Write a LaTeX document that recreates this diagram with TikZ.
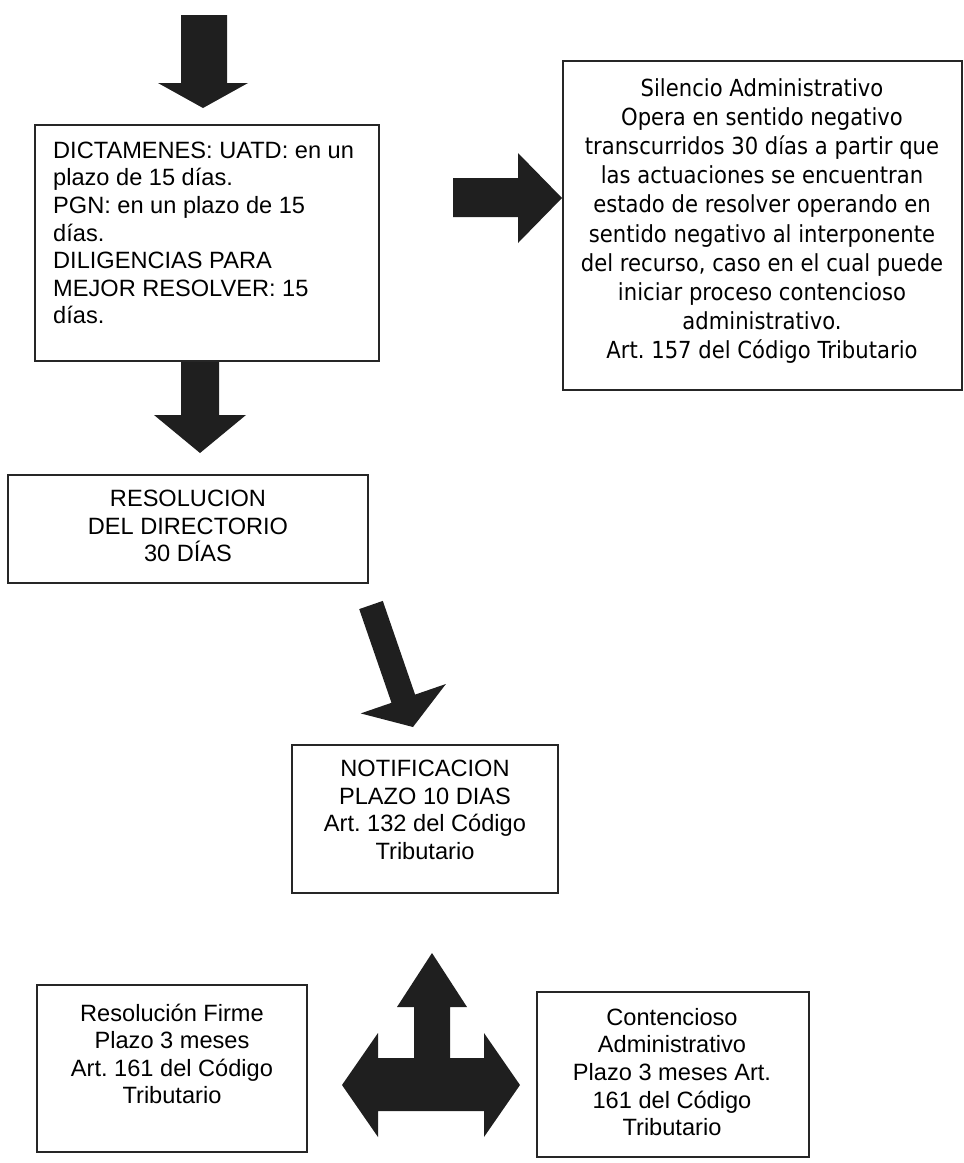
\documentclass[tikz,border=0pt]{standalone}
\usepackage{fontspec}
\setmainfont{Liberation Sans}
\newfontfamily\silfont[FakeStretch=0.9]{DejaVu Sans}
\usepackage{tikz}
\frenchspacing

\tikzset{
  caja/.style={draw=black!85, line width=1.4pt, inner sep=0pt},
  texto/.style={inner sep=0pt, align=center, font=\fontsize{23.6}{27.6}\selectfont},
  bloque/.style={fill=black!88},
}

\begin{document}
\begin{tikzpicture}[x=1pt, y=-1pt]
  \useasboundingbox (0,0) rectangle (964,1163);

  % cajas
  \node[caja, minimum width=344pt, minimum height=236pt] (dictamenes) at (207,243) {};
  \node[caja, minimum width=399pt, minimum height=329pt] (silencio) at (762.5,225.5) {};
  \node[caja, minimum width=360pt, minimum height=108pt] (resolucion) at (188,529) {};
  \node[caja, minimum width=266pt, minimum height=148pt] (notificacion) at (425,819) {};
  \node[caja, minimum width=270pt, minimum height=167pt] (firme) at (172,1068.5) {};
  \node[caja, minimum width=272pt, minimum height=165pt] (contencioso) at (673,1074.5) {};

  % textos
  \node[texto, align=left, anchor=west] (dictamenesTxt) at (53,233)
    {DICTAMENES: UATD: en un\\plazo de 15 días.\\PGN: en un plazo de 15\\días.\\DILIGENCIAS PARA\\MEJOR RESOLVER: 15\\días.};
  \node[texto, font=\silfont\fontsize{23.5}{29.2}\selectfont] (silencioTxt) at (762,221)
    {Silencio Administrativo\\Opera en sentido negativo\\transcurridos 30 días a partir que\\las actuaciones se encuentran\\estado de resolver operando en\\sentido negativo al interponente\\del recurso, caso en el cual puede\\iniciar proceso contencioso\\administrativo.\\Art. 157 del Código Tributario};
  \node[texto] (resolucionTxt) at (188,526) {RESOLUCION\\DEL DIRECTORIO\\30 DÍAS};
  \node[texto] (notificacionTxt) at (425,810) {NOTIFICACION\\PLAZO 10 DIAS\\Art. 132 del Código\\Tributario};
  \node[texto] (firmeTxt) at (172,1054) {Resolución Firme\\Plazo 3 meses\\Art. 161 del Código\\Tributario};
  \node[texto] (contenciosoTxt) at (672,1072) {Contencioso\\Administrativo\\Plazo 3 meses Art.\\161 del Código\\Tributario};

  % flechas
  \fill[bloque] (181,15) -- (227,15) -- (227,83) -- (248,83) -- (203,108) -- (158,83) -- (181,83) -- cycle;
  \fill[bloque] (181,362) -- (219,362) -- (219,415) -- (246,415) -- (200,453) -- (154,415) -- (181,415) -- cycle;
  \fill[bloque] (453,178) -- (518,178) -- (518,153) -- (562,198) -- (518,243) -- (518,217) -- (453,217) -- cycle;
  \fill[bloque] (359.2,609.1) -- (382.8,600.9) -- (415.1,694.6) -- (445.9,684.0) -- (413,727)
    -- (360.7,713.4) -- (391.5,702.8) -- cycle;
  \fill[bloque] (432,953) -- (467,1007) -- (450,1007) -- (450,1058) -- (484,1058) -- (484,1033)
    -- (520,1085) -- (484,1137) -- (484,1111) -- (378,1111) -- (378,1137) -- (342,1085)
    -- (378,1033) -- (378,1058) -- (414,1058) -- (414,1007) -- (397,1007) -- cycle;
\end{tikzpicture}
\end{document}
